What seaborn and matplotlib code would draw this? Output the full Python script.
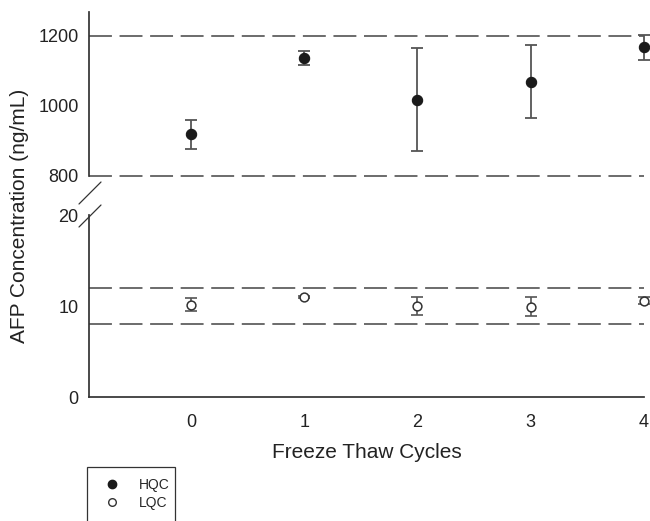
import numpy as np
import pandas as pd
import matplotlib
matplotlib.use("Agg")
import matplotlib.pyplot as plt
import seaborn as sns
from matplotlib.lines import Line2D
from matplotlib.patches import Rectangle

cycles = [0, 1, 2, 3, 4]
hqc_mean = [918, 1136, 1017, 1068, 1166]
hqc_sd = [42, 20, 146, 104, 35]
lqc_mean = [10.15, 11.05, 10.05, 9.95, 10.62]
lqc_sd = [0.7, 0.1, 0.97, 1.05, 0.4]
x_ticks = [0, 1, 2, 3, 4]
top_ticks = [800, 1000, 1200]
bottom_ticks = [0, 10, 20]
hqc_limits = [800, 1200]
lqc_limits = [8, 12]

sns.set_theme(style="white")
plt.rcParams["font.family"] = ["Liberation Sans", "DejaVu Sans"]

df_h = pd.DataFrame({"cycle": cycles, "conc": hqc_mean, "sd": hqc_sd})
df_l = pd.DataFrame({"cycle": cycles, "conc": lqc_mean, "sd": lqc_sd})

W, H = 650, 521
fig = plt.figure(figsize=(6.5, 5.21), dpi=100)
left = 89 / W
width = 555 / W
ax_top = fig.add_axes([left, 1 - 175.7 / H, width, 164 / H])
ax_bot = fig.add_axes([left, 1 - 397 / H, width, 181.6 / H])

dash_kw = dict(color="#444444", lw=1.1, dashes=(15, 5), zorder=1, clip_on=False)
err_col = "#555555"

for ax in (ax_top, ax_bot):
    ax.set_xlim(-0.9, 4.0)
    for s in ("top", "right"):
        ax.spines[s].set_visible(False)
    ax.spines["left"].set_color("#333333")
    ax.spines["bottom"].set_color("#333333")
    ax.tick_params(axis="both", direction="out", length=4, width=0.9,
                   colors="#333333", labelsize=13, labelcolor="#222222")

# top panel (HQC)
ax_top.set_ylim(800, 1268)
ax_top.spines["bottom"].set_visible(False)
ax_top.set_xticks([])
ax_top.set_yticks(top_ticks)
for v in hqc_limits:
    ax_top.axhline(v, **dash_kw)
ax_top.errorbar(df_h["cycle"], df_h["conc"], yerr=df_h["sd"], fmt="none",
                ecolor=err_col, elinewidth=1.3, capsize=4.3, capthick=1.3,
                clip_on=False, zorder=2)
sns.scatterplot(data=df_h, x="cycle", y="conc", ax=ax_top, color="#1a1a1a",
                marker="o", s=55, edgecolor="#1a1a1a", linewidth=0.8,
                clip_on=False, zorder=3, legend=False)
ax_top.set_xlabel("")
ax_top.set_ylabel("")

# bottom panel (LQC)
ax_bot.set_ylim(0, 20)
ax_bot.set_yticks(bottom_ticks)
ax_bot.set_xticks(x_ticks)
ax_bot.tick_params(axis="x", pad=8)
for v in lqc_limits:
    ax_bot.axhline(v, **dash_kw)
ax_bot.errorbar(df_l["cycle"], df_l["conc"], yerr=df_l["sd"], fmt="none",
                ecolor=err_col, elinewidth=1.2, capsize=4.3, capthick=1.2,
                clip_on=False, zorder=2)
sns.scatterplot(data=df_l, x="cycle", y="conc", ax=ax_bot, color="white",
                marker="o", s=40, edgecolor="#333333", linewidth=1.1,
                clip_on=False, zorder=3, legend=False)
ax_bot.set_xlabel("Freeze Thaw Cycles", fontsize=15, color="#222222", labelpad=9)
ax_bot.set_ylabel("")

# broken-axis slashes
for yc in (193, 216):
    fig.add_artist(Line2D([79 / W, 101 / W], [1 - (yc + 11) / H, 1 - (yc - 11) / H],
                          transform=fig.transFigure, color="#333333", lw=0.9))

fig.text(20 / W, 1 - 216 / H, "AFP Concentration (ng/mL)", rotation=90,
         ha="center", va="center", fontsize=15, color="#222222")

# legend box (cut off at bottom, as in original)
fig.add_artist(Rectangle((87 / W, 1 - 540 / H), 88 / W, 73 / H,
                         transform=fig.transFigure, fill=False,
                         edgecolor="#333333", lw=0.9))
handles = [
    Line2D([], [], ls="none", marker="o", markersize=6, markerfacecolor="#1a1a1a",
           markeredgecolor="#1a1a1a", label="HQC"),
    Line2D([], [], ls="none", marker="o", markersize=5.5, markerfacecolor="white",
           markeredgecolor="#333333", label="LQC"),
]
fig.legend(handles=handles, loc="upper left", bbox_to_anchor=(97 / W, 1 - 471 / H),
           frameon=False, fontsize=10, handletextpad=1.3, labelspacing=0.3,
           borderpad=0, handlelength=1.2)

fig.savefig("out.png", dpi=100)
